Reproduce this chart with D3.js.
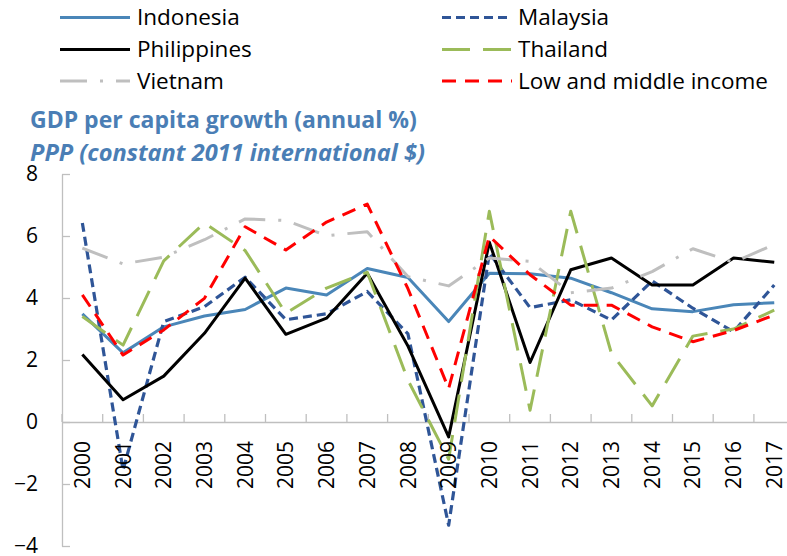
<!DOCTYPE html>
<html>
<head>
<meta charset="utf-8">
<script src="https://cdn.jsdelivr.net/npm/d3@7"></script>
<style>
  html, body { margin: 0; padding: 0; background: #fff; }
  svg { display: block; font-family: "Open Sans", "Noto Sans", sans-serif; }
</style>
</head>
<body>
<svg id="chart" width="787" height="556"></svg>
<script>
const years = ["2000","2001","2002","2003","2004","2005","2006","2007","2008","2009","2010","2011","2012","2013","2014","2015","2016","2017"];
const indonesia   = [3.49, 2.23, 3.07, 3.42, 3.63, 4.32, 4.10, 4.95, 4.66, 3.24, 4.80, 4.78, 4.64, 4.17, 3.65, 3.56, 3.78, 3.85];
const malaysia    = [6.42, -1.55, 3.24, 3.72, 4.67, 3.30, 3.49, 4.21, 2.84, -3.33, 5.45, 3.69, 3.94, 3.29, 4.55, 3.67, 2.91, 4.42];
const philippines = [2.18, 0.72, 1.48, 2.86, 4.64, 2.83, 3.35, 4.80, 2.45, -0.48, 5.80, 1.92, 4.91, 5.29, 4.42, 4.42, 5.29, 5.15];
const thailand    = [3.40, 2.48, 5.20, 6.42, 5.53, 3.51, 4.32, 4.83, 1.35, -1.20, 6.80, 0.38, 6.80, 2.21, 0.52, 2.77, 3.00, 3.61];
const vietnam     = [5.61, 5.10, 5.32, 5.88, 6.55, 6.50, 6.01, 6.14, 4.69, 4.39, 5.29, 5.18, 4.17, 4.32, 4.85, 5.59, 5.15, 5.73];
const lowMiddle   = [4.10, 2.16, 2.97, 3.99, 6.30, 5.55, 6.45, 7.03, 4.30, 1.08, 5.99, 4.75, 3.77, 3.77, 3.07, 2.59, 2.95, 3.45];
const yTicks = [-4, -2, 0, 2, 4, 6, 8];
const titleLine1 = "GDP per capita growth (annual %)";
const titleLine2 = "PPP (constant 2011 international $)";

const series = [
  { name: "Indonesia", values: indonesia, color: "#4A86B8", dash: null, width: 3 },
  { name: "Malaysia", values: malaysia, color: "#2F5597", dash: "9,5", width: 3.2 },
  { name: "Philippines", values: philippines, color: "#000000", dash: null, width: 3 },
  { name: "Thailand", values: thailand, color: "#9BBB59", dash: "28,13", width: 3 },
  { name: "Vietnam", values: vietnam, color: "#BFBFBF", dash: "27,13,3,13", width: 3 },
  { name: "Low and middle income", values: lowMiddle, color: "#FF0000", dash: "14,9", width: 3 }
];

const svg = d3.select("#chart");

// scales
const x = d3.scaleBand().domain(years).range([62, 62 + 18 * 40.7]).padding(0);
const y = d3.scaleLinear().domain([-4, 8]).range([546, 174]);
const cx = d => x(d) + x.bandwidth() / 2;

const axisColor = "#BFBFBF";

// y axis
const yAxis = d3.axisLeft(y).tickValues(yTicks).tickSizeInner(-8).tickSizeOuter(0).tickPadding(24).tickFormat(d3.format("d"));
const gy = svg.append("g").attr("transform", "translate(62,0)").call(yAxis);
gy.select(".domain").attr("stroke", axisColor).attr("stroke-width", 1.3);
gy.selectAll(".tick line").attr("stroke", axisColor).attr("stroke-width", 1.3);
gy.selectAll(".tick text").attr("fill", "#000").style("font-size", "21px").style("font-family", '"Open Sans", sans-serif');

// x axis (at y = 0)
const x0 = y(0);
const xAxis = d3.axisBottom(x).tickSize(0).tickSizeOuter(0);
const gx = svg.append("g").attr("transform", `translate(0,${x0})`).call(xAxis);
gx.select(".domain").attr("stroke", axisColor).attr("stroke-width", 1.3);
gx.selectAll(".tick text").remove();
const boundaries = years.map(d => x(d)).concat([x.range()[1]]);
gx.selectAll(".bnd").data(boundaries).enter().append("line")
  .attr("class", "bnd")
  .attr("x1", d => d).attr("x2", d => d)
  .attr("y1", 0).attr("y2", -8)
  .attr("stroke", axisColor).attr("stroke-width", 1.3);

// lines
const line = d3.line().x((v, i) => cx(years[i])).y(v => y(v)).curve(d3.curveLinear);
series.forEach(s => {
  svg.append("path")
    .datum(s.values)
    .attr("fill", "none")
    .attr("stroke", s.color)
    .attr("stroke-width", s.width)
    .attr("stroke-linejoin", "round")
    .attr("stroke-dasharray", s.dash)
    .attr("d", line);
});

// x labels (rotated)
svg.append("g").selectAll("text").data(years).enter().append("text")
  .attr("transform", d => `translate(${cx(d)},441) rotate(-90)`)
  .attr("text-anchor", "end")
  .attr("dy", "0.36em")
  .style("font-size", "21px")
  .attr("fill", "#000")
  .text(d => d);

// title
const titleColor = "#4A7EB5";
svg.append("text").attr("x", 30).attr("y", 128)
  .attr("fill", titleColor).style("font-size", "23px").style("font-weight", "bold")
  .text(titleLine1);
svg.append("text").attr("x", 30).attr("y", 161)
  .attr("fill", titleColor).style("font-size", "23.6px").style("font-weight", "bold").style("font-style", "italic")
  .text(titleLine2);

// legend
const legendPos = [
  { lx: 60, tx: 137, yy: 17.5 },
  { lx: 442, tx: 518, yy: 17.5 },
  { lx: 60, tx: 137, yy: 49.5 },
  { lx: 442, tx: 518, yy: 49.5 },
  { lx: 60, tx: 137, yy: 81 },
  { lx: 442, tx: 518, yy: 81 }
];
series.forEach((s, i) => {
  const p = legendPos[i];
  svg.append("line")
    .attr("x1", p.lx).attr("x2", p.lx + 70)
    .attr("y1", p.yy).attr("y2", p.yy)
    .attr("stroke", s.color).attr("stroke-width", s.width)
    .attr("stroke-dasharray", s.dash);
  svg.append("text")
    .attr("x", p.tx).attr("y", p.yy)
    .attr("dy", "0.35em")
    .style("font-size", "22.5px")
    .attr("fill", "#000")
    .text(s.name);
});
</script>
</body>
</html>
